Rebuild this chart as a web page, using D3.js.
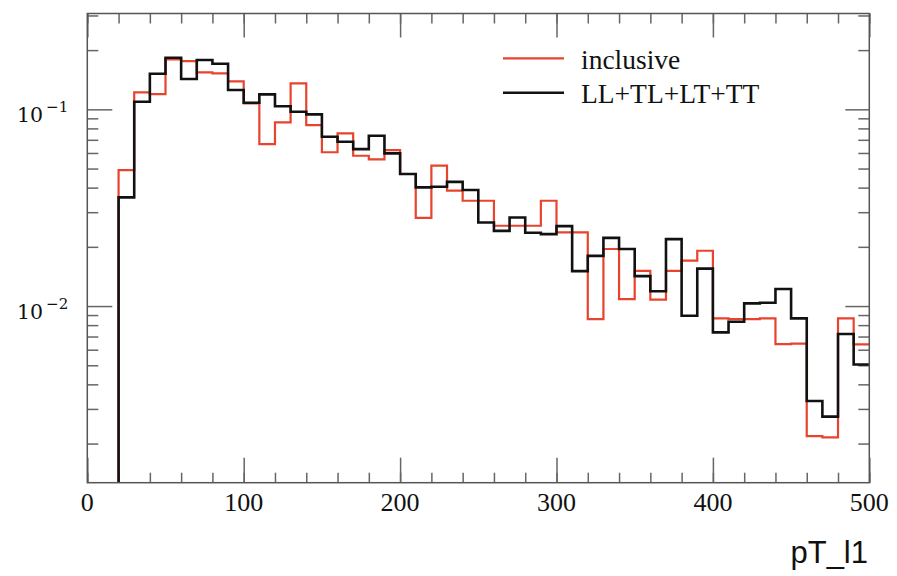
<!DOCTYPE html>
<html>
<head>
<meta charset="utf-8">
<script src="https://cdn.jsdelivr.net/npm/d3@7"></script>
<style>
  body { margin: 0; background: #fff; }
  svg { display: block; }
</style>
</head>
<body>
<svg id="plot" width="897" height="576"></svg>
<script>
// bins of 10 GeV, from 20 to 500
const binLow = [20, 30, 40, 50, 60, 70, 80, 90, 100, 110, 120, 130, 140, 150, 160, 170, 180, 190,
	200, 210, 220, 230, 240, 250, 260, 270, 280, 290, 300, 310, 320, 330, 340, 350, 360, 370, 380, 390,
	400, 410, 420, 430, 440, 450, 460, 470, 480, 490];
const binWidth = 10;

const inclusive = [0.0491, 0.122, 0.1196, 0.1796, 0.176, 0.1542, 0.1524, 0.1388, 0.1073, 0.0666,
	0.0859, 0.1356, 0.0832, 0.0605, 0.0755, 0.0581, 0.0557, 0.0621, 0.0469, 0.0281,
	0.0517, 0.0386, 0.0343, 0.0343, 0.0256, 0.0256, 0.0256, 0.0343, 0.0237, 0.0237,
	0.00859, 0.0195, 0.01085, 0.0151, 0.01079, 0.0151, 0.0170, 0.0191, 0.00866, 0.00859,
	0.00859, 0.00866, 0.00641, 0.00644, 0.00218, 0.00215, 0.00866, 0.00639];

const polarized = [0.0357, 0.1093, 0.1517, 0.183, 0.1426, 0.178, 0.1705, 0.1253, 0.108, 0.1192,
	0.1036, 0.0972, 0.0943, 0.0726, 0.0684, 0.0628, 0.0734, 0.0597, 0.0469, 0.0401,
	0.0404, 0.0428, 0.0389, 0.0266, 0.0241, 0.0282, 0.0236, 0.0232, 0.0255, 0.01506,
	0.0180, 0.0222, 0.0195, 0.0142, 0.0119, 0.0219, 0.00893, 0.0155, 0.00735, 0.00832,
	0.01032, 0.01039, 0.0122, 0.00866, 0.00329, 0.00274, 0.00721, 0.00505];

const seriesNames = ["inclusive", "LL+TL+LT+TT"];
const seriesColors = ["#e8432c", "#111111"];

const xMajor = [0, 100, 200, 300, 400, 500];
const xMinor = d3.range(0, 501, 20);
const yMajor = [0.01, 0.1];
const yMinor = [0.002, 0.003, 0.004, 0.005, 0.006, 0.007, 0.008, 0.009,
	0.02, 0.03, 0.04, 0.05, 0.06, 0.07, 0.08, 0.09, 0.2, 0.3];
const yLabels = {"0.1": "\u22121", "0.01": "\u22122"};
const xTitle = "pT_l1";

const svg = d3.select("#plot");
const frame = {left: 87.3, right: 869.3, top: 13.5, bottom: 482.7};

let x = d3.scaleLinear()
	.domain([0, 500])
	.range([frame.left, frame.right]);

let y = d3.scaleLog()
	.domain([0.001265, 0.307])
	.range([frame.bottom, frame.top]);

svg.append("clipPath").attr("id", "clip")
	.append("rect")
	.attr("x", frame.left).attr("y", frame.top)
	.attr("width", frame.right - frame.left)
	.attr("height", frame.bottom - frame.top);

// axes: ticks pointing inwards on all four sides
function tickAxis(axis, sel, ticks, size) {
	const g = svg.append("g")
		.attr("transform", sel)
		.call(axis.tickValues(ticks).tickSize(-size).tickFormat(""));
	g.select(".domain").remove();
	g.selectAll("line").attr("stroke", "#666").attr("stroke-width", 1.5);
	return g;
}

tickAxis(d3.axisBottom(x), `translate(0,${frame.bottom})`, xMinor, 10);
tickAxis(d3.axisBottom(x), `translate(0,${frame.bottom})`, xMajor, 25);
tickAxis(d3.axisTop(x), `translate(0,${frame.top})`, xMinor, 10);
tickAxis(d3.axisTop(x), `translate(0,${frame.top})`, xMajor, 24);
tickAxis(d3.axisLeft(y), `translate(${frame.left},0)`, yMinor, 11);
tickAxis(d3.axisLeft(y), `translate(${frame.left},0)`, yMajor, 25);
tickAxis(d3.axisRight(y), `translate(${frame.right},0)`, yMinor, 11);
tickAxis(d3.axisRight(y), `translate(${frame.right},0)`, yMajor, 24);

// histograms
function histPoints(vals) {
	const pts = [{x: binLow[0], y: y.domain()[0] * 0.5}];
	vals.forEach((v, i) => pts.push({x: binLow[i], y: v}));
	pts.push({x: binLow[binLow.length - 1] + binWidth, y: vals[vals.length - 1]});
	return pts;
}

const lineDrawer = d3.line()
	.curve(d3.curveStepAfter)
	.x(d => x(d.x))
	.y(d => y(d.y));

[inclusive, polarized].forEach((vals, i) => {
	svg.append("path")
		.datum(histPoints(vals))
		.attr("clip-path", "url(#clip)")
		.attr("fill", "none")
		.attr("stroke", seriesColors[i])
		.attr("stroke-width", i == 0 ? 2.2 : 2.6)
		.attr("stroke-linejoin", "miter")
		.attr("d", lineDrawer);
});

// frame
svg.append("rect")
	.attr("x", frame.left).attr("y", frame.top)
	.attr("width", frame.right - frame.left)
	.attr("height", frame.bottom - frame.top)
	.attr("fill", "none")
	.attr("stroke", "#555")
	.attr("stroke-width", 1.5);

// x tick labels
svg.append("g").selectAll("text")
	.data(xMajor)
	.join("text")
	.attr("x", d => x(d))
	.attr("y", 511)
	.attr("text-anchor", "middle")
	.attr("font-family", "'Liberation Serif', serif")
	.attr("font-size", 26)
	.attr("fill", "#111")
	.text(d => d);

// y tick labels 10^-n
const yl = svg.append("g").selectAll("text")
	.data(yMajor)
	.join("text")
	.attr("x", 17)
	.attr("y", d => y(d) + 13)
	.attr("font-family", "'DejaVu Serif', serif")
	.attr("font-size", 20.5)
	.attr("fill", "#111");
yl.append("tspan").text("10");
yl.append("tspan")
	.attr("dx", 3)
	.attr("dy", -10)
	.attr("font-size", 15)
	.text(d => yLabels[String(d)]);

// x title
svg.append("text")
	.attr("x", 868)
	.attr("y", 563)
	.attr("text-anchor", "end")
	.attr("font-family", "'Liberation Sans', Arial, sans-serif")
	.attr("font-size", 31)
	.attr("fill", "#111")
	.text(xTitle);

// legend
const legend = svg.append("g");
seriesNames.forEach((name, i) => {
	const ly = 58.3 + i * 34.5;
	legend.append("line")
		.attr("x1", 503).attr("x2", 564)
		.attr("y1", ly).attr("y2", ly)
		.attr("stroke", seriesColors[i])
		.attr("stroke-width", i == 0 ? 2.2 : 2.6);
	legend.append("text")
		.attr("x", 581)
		.attr("y", ly + 10.5)
		.attr("font-family", "'Liberation Serif', serif")
		.attr("font-size", 27.5)
		.attr("fill", "#111")
		.text(name);
});
</script>
</body>
</html>
